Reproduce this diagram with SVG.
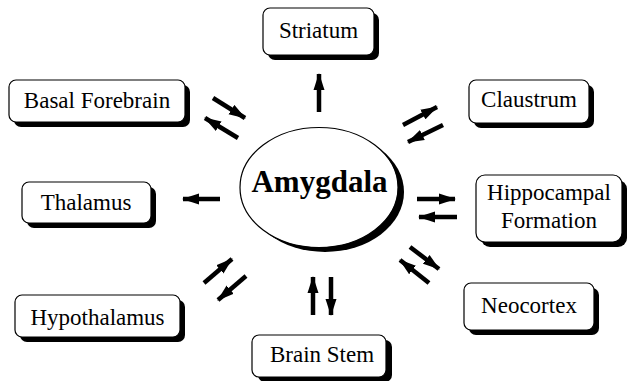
<svg xmlns="http://www.w3.org/2000/svg" width="630" height="381" viewBox="0 0 630 381">
<defs>
<marker id="ah" markerUnits="userSpaceOnUse" markerWidth="17" markerHeight="12" refX="16" refY="6" orient="auto">
<path d="M0,0.5 L17,6 L0,11.5 Z" fill="#000"/>
</marker>
</defs>
<style>
.box{fill:#fff;stroke:#000;stroke-width:1.2}
.sh{fill:#000}
text{font-family:'Liberation Serif','Times New Roman',serif;fill:#000;text-anchor:middle}
.lbl{font-size:23px}
.title{font-size:31px;font-weight:bold}
.arr{stroke:#000;stroke-width:4.5;fill:none;marker-end:url(#ah)}
</style>
<rect width="630" height="381" fill="#fff"/>
<g id="amygdala">
<ellipse cx="325" cy="192" rx="79" ry="60" class="sh"/>
<ellipse cx="319" cy="187.5" rx="79" ry="60" class="box"/>
<text x="319.5" y="192" class="title">Amygdala</text>
</g>
<g id="striatum">
<rect x="268" y="13" width="111" height="47" rx="7" class="sh"/>
<rect x="263" y="8" width="111" height="47" rx="7" class="box"/>
<text x="318.5" y="38" class="lbl">Striatum</text>
</g>
<g id="basal-forebrain">
<rect x="14" y="85" width="176" height="42" rx="7" class="sh"/>
<rect x="9" y="80" width="176" height="42" rx="7" class="box"/>
<text x="97" y="108" class="lbl">Basal Forebrain</text>
</g>
<g id="claustrum">
<rect x="474" y="85" width="120" height="43" rx="7" class="sh"/>
<rect x="469" y="80" width="120" height="43" rx="7" class="box"/>
<text x="529" y="107" class="lbl">Claustrum</text>
</g>
<g id="thalamus">
<rect x="27" y="187" width="129" height="41" rx="7" class="sh"/>
<rect x="22" y="182" width="129" height="41" rx="7" class="box"/>
<text x="86" y="210" class="lbl">Thalamus</text>
</g>
<g id="hippocampal-formation">
<rect x="481" y="180" width="146" height="67" rx="9" class="sh"/>
<rect x="476" y="175" width="146" height="67" rx="9" class="box"/>
<text x="549" y="200" class="lbl">Hippocampal</text>
<text x="549" y="228" class="lbl">Formation</text>
</g>
<g id="hypothalamus">
<rect x="20" y="300" width="165" height="42" rx="7" class="sh"/>
<rect x="15" y="295" width="165" height="42" rx="7" class="box"/>
<text x="97.5" y="325" class="lbl">Hypothalamus</text>
</g>
<g id="neocortex">
<rect x="469" y="288" width="130" height="47" rx="7" class="sh"/>
<rect x="464" y="283" width="130" height="47" rx="7" class="box"/>
<text x="529" y="313" class="lbl">Neocortex</text>
</g>
<g id="brain-stem">
<rect x="258" y="340" width="134" height="42" rx="7" class="sh"/>
<rect x="252" y="335" width="134" height="42" rx="7" class="box"/>
<text x="322" y="362" class="lbl">Brain Stem</text>
</g>
<g id="connectors">
<line x1="319" y1="112" x2="319" y2="74" class="arr"/>
<line x1="213" y1="98" x2="245" y2="118" class="arr"/>
<line x1="238" y1="138" x2="205" y2="118" class="arr"/>
<line x1="403" y1="125" x2="437" y2="107" class="arr"/>
<line x1="443" y1="125" x2="408" y2="142" class="arr"/>
<line x1="220" y1="199" x2="183" y2="199" class="arr"/>
<line x1="417" y1="199" x2="455" y2="199" class="arr"/>
<line x1="457" y1="217" x2="419" y2="217" class="arr"/>
<line x1="410" y1="247" x2="439" y2="269" class="arr"/>
<line x1="429" y1="283" x2="400" y2="260" class="arr"/>
<line x1="204" y1="283" x2="232" y2="259" class="arr"/>
<line x1="246" y1="276" x2="218" y2="300" class="arr"/>
<line x1="313" y1="315" x2="313" y2="277" class="arr"/>
<line x1="331" y1="277" x2="331" y2="315" class="arr"/>
</g>
</svg>
